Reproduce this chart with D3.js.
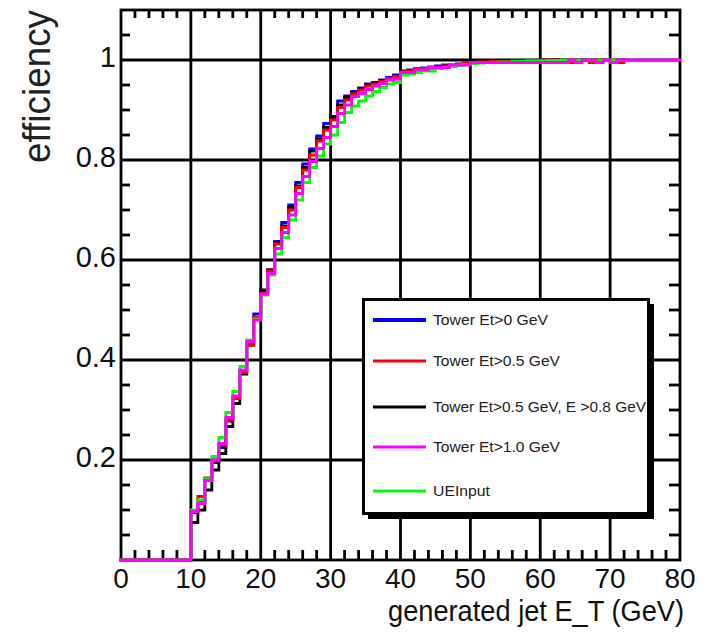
<!DOCTYPE html>
<html><head><meta charset="utf-8">
<script src="https://cdn.jsdelivr.net/npm/d3@7"></script>
<style>body{margin:0;background:#fff}svg{display:block}</style></head>
<body>
<svg id="c" width="706" height="638"></svg>
<script>
// ---------- data ----------
const xTicks = [0, 10, 20, 30, 40, 50, 60, 70, 80];
const yTicks = [0.2, 0.4, 0.6, 0.8, 1];
const yTickLabels = ["0.2", "0.4", "0.6", "0.8", "1"];
const firstBin = 10;           // first non-empty bin (GeV); bins are 1 GeV wide

const seriesNames = ["Tower Et>0 GeV", "Tower Et>0.5 GeV", "Tower Et>0.5 GeV, E >0.8 GeV", "Tower Et>1.0 GeV", "UEInput"];
const seriesColors = ["#0000ff", "#ff0000", "#000000", "#ff00ff", "#00ff00"];

const blueVals = [
 .095,.118,.160,.195,.225,.278,.325,.378,.433,.492,
 .535,.580,.637,.675,.710,.755,.792,.822,.848,.873,
 .887,.918,.928,.937,.944,.952,.955,.960,.965,.970,
 .978,.980,.982,.984,.986,.988,.990,.990,.992,.994,
 .995,.995,.996,.996,.997,.997,.998,.998,.998,.998,
 1,1,1,1,1,1,1,1,1,1,1,1];
const redVals = [
 .098,.127,.164,.198,.230,.280,.323,.375,.430,.485,
 .533,.578,.632,.665,.700,.745,.780,.810,.838,.860,
 .880,.905,.920,.932,.940,.948,.952,.957,.963,.967,
 .976,.978,.983,.983,.985,.986,.988,.989,.991,.995,
 .995,.996,.996,.997,.997,.997,.998,.998,.998,.998,
 1,1,1,1,.995,1,1,.995,1,1,1,.995];
const blackVals = [
 .075,.100,.140,.180,.213,.267,.313,.372,.430,.485,
 .540,.580,.635,.668,.705,.748,.785,.818,.842,.865,
 .885,.910,.925,.935,.942,.950,.953,.958,.963,.968,
 .976,.978,.980,.982,.984,.986,.988,.989,.991,.993,
 .995,.996,.996,.997,.997,.998,.998,.998,.999,.999,
 1,1,1,1,1,1,1,1,1,1,1,1];
const magentaVals = [
 .097,.113,.159,.200,.233,.285,.328,.380,.437,.480,
 .532,.573,.623,.655,.690,.733,.767,.797,.823,.845,
 .867,.893,.910,.927,.933,.941,.948,.953,.960,.962,
 .975,.975,.980,.980,.985,.985,.985,.990,.990,.990,
 .995,.995,.995,.995,.995,.995,.995,.995,.995,.995,
 .995,.995,.995,.995,1,.995,1,1,.995,1,
 .995,1,1,1,1,1,1,1,1,1];
const greenVals = [
 .100,.120,.162,.207,.245,.295,.337,.387,.440,.482,
 .530,.570,.612,.645,.680,.720,.755,.785,.808,.832,
 .850,.875,.895,.908,.918,.928,.937,.945,.952,.955,
 .970,.972,.975,.978,.978,.983,.985,.987,.989,.991,
 .993,.994,.995,.995,.996,.996,.997,.997,.998,.998,
 .998,.999,.999,1,1,1,1,1,1,1,1,1];

// ---------- layout ----------
const svg = d3.select("#c");
const L = 121, R = 680, T = 10, B = 560;
const x = d3.scaleLinear().domain([0, 80]).range([L, R]);
const y = d3.scaleLinear().domain([0, 1.1]).range([B, T]);
const lw = 2.8;
const font = "Liberation Sans, Arial, Helvetica, sans-serif";

// grid
const g = svg.append("g");
xTicks.filter(v => v > 0 && v < 80).forEach(v => {
  g.append("line").attr("x1", x(v)).attr("x2", x(v)).attr("y1", y(0)).attr("y2", y(1.1))
   .attr("stroke", "#000").attr("stroke-width", lw);
});
yTicks.forEach(v => {
  g.append("line").attr("x1", x(0)).attr("x2", x(80)).attr("y1", y(v)).attr("y2", y(v))
   .attr("stroke", "#000").attr("stroke-width", lw);
});

// minor ticks
const xMinor = d3.range(0, 81, 2).filter(v => v % 10 !== 0);
const yMinor = d3.range(0.05, 1.1, 0.05).filter(v => Math.abs(v * 5 - Math.round(v * 5)) > 1e-6);
xMinor.forEach(v => {
  g.append("line").attr("x1", x(v)).attr("x2", x(v)).attr("y1", B).attr("y2", B - 10)
   .attr("stroke", "#000").attr("stroke-width", lw);
  g.append("line").attr("x1", x(v)).attr("x2", x(v)).attr("y1", T).attr("y2", T + 8)
   .attr("stroke", "#000").attr("stroke-width", lw);
});
yMinor.forEach(v => {
  g.append("line").attr("x1", L).attr("x2", L + 9).attr("y1", y(v)).attr("y2", y(v))
   .attr("stroke", "#000").attr("stroke-width", lw);
  g.append("line").attr("x1", R).attr("x2", R - 11).attr("y1", y(v)).attr("y2", y(v))
   .attr("stroke", "#000").attr("stroke-width", lw);
});

// frame
svg.append("rect").attr("x", L).attr("y", T).attr("width", R - L).attr("height", B - T)
  .attr("fill", "none").attr("stroke", "#000").attr("stroke-width", lw);

// tick labels
xTicks.forEach(v => {
  svg.append("text").attr("x", x(v)).attr("y", 588).attr("text-anchor", "middle")
    .attr("font-family", font).attr("font-size", 28).attr("fill", "#111").text(v);
});
yTicks.forEach((v, i) => {
  svg.append("text").attr("x", 116).attr("y", y(v) + 7).attr("text-anchor", "end")
    .attr("font-family", font).attr("font-size", 29).attr("fill", "#111").text(yTickLabels[i]);
});

// axis titles
svg.append("text").attr("x", 684).attr("y", 621).attr("text-anchor", "end")
  .attr("font-family", font).attr("font-size", 29).attr("fill", "#111")
  .attr("textLength", 296).attr("lengthAdjust", "spacingAndGlyphs")
  .text("generated jet E_T (GeV)");
svg.append("text").attr("transform", "translate(50,10) rotate(-90)").attr("text-anchor", "end")
  .attr("font-family", font).attr("font-size", 38).attr("fill", "#222")
  .attr("textLength", 153).attr("lengthAdjust", "spacingAndGlyphs")
  .text("efficiency");

// series (step histograms)
function toPoints(vals) {
  const pts = [];
  for (let b = 0; b < firstBin; b++) pts.push([b, 0]);
  vals.forEach((v, i) => pts.push([firstBin + i, v]));
  pts.push([firstBin + vals.length, vals[vals.length - 1]]);
  return pts;
}
const line = d3.line().x(d => x(d[0])).y(d => y(d[1])).curve(d3.curveStepAfter);
const allVals = [blueVals, redVals, blackVals, magentaVals, greenVals];
const drawOrder = [0, 2, 1, 4, 3];
drawOrder.forEach(i => {
  svg.append("path").attr("d", line(toPoints(allVals[i])))
    .attr("fill", "none").attr("stroke", seriesColors[i]).attr("stroke-width", lw)
    .attr("stroke-linejoin", "miter").attr("stroke-linecap", "square");
});

// legend
const lg = svg.append("g");
lg.append("rect").attr("x", 368).attr("y", 304).attr("width", 286).attr("height", 215).attr("fill", "#000");
lg.append("rect").attr("x", 363.5).attr("y", 299.5).attr("width", 285).attr("height", 214)
  .attr("fill", "#fff").attr("stroke", "#000").attr("stroke-width", 3);
const legY = [320, 361, 407, 447, 491];
const legW = [115, 127, 213, 127, 57];
seriesNames.forEach((n, i) => {
  lg.append("line").attr("x1", 373).attr("x2", 426).attr("y1", legY[i]).attr("y2", legY[i])
    .attr("stroke", seriesColors[i]).attr("stroke-width", i === 0 ? 4 : 3);
  lg.append("text").attr("x", 433).attr("y", legY[i] + 5).attr("font-family", font)
    .attr("font-size", 14).attr("fill", "#222")
    .attr("textLength", legW[i]).attr("lengthAdjust", "spacingAndGlyphs").text(n);
});
</script>
</body></html>
